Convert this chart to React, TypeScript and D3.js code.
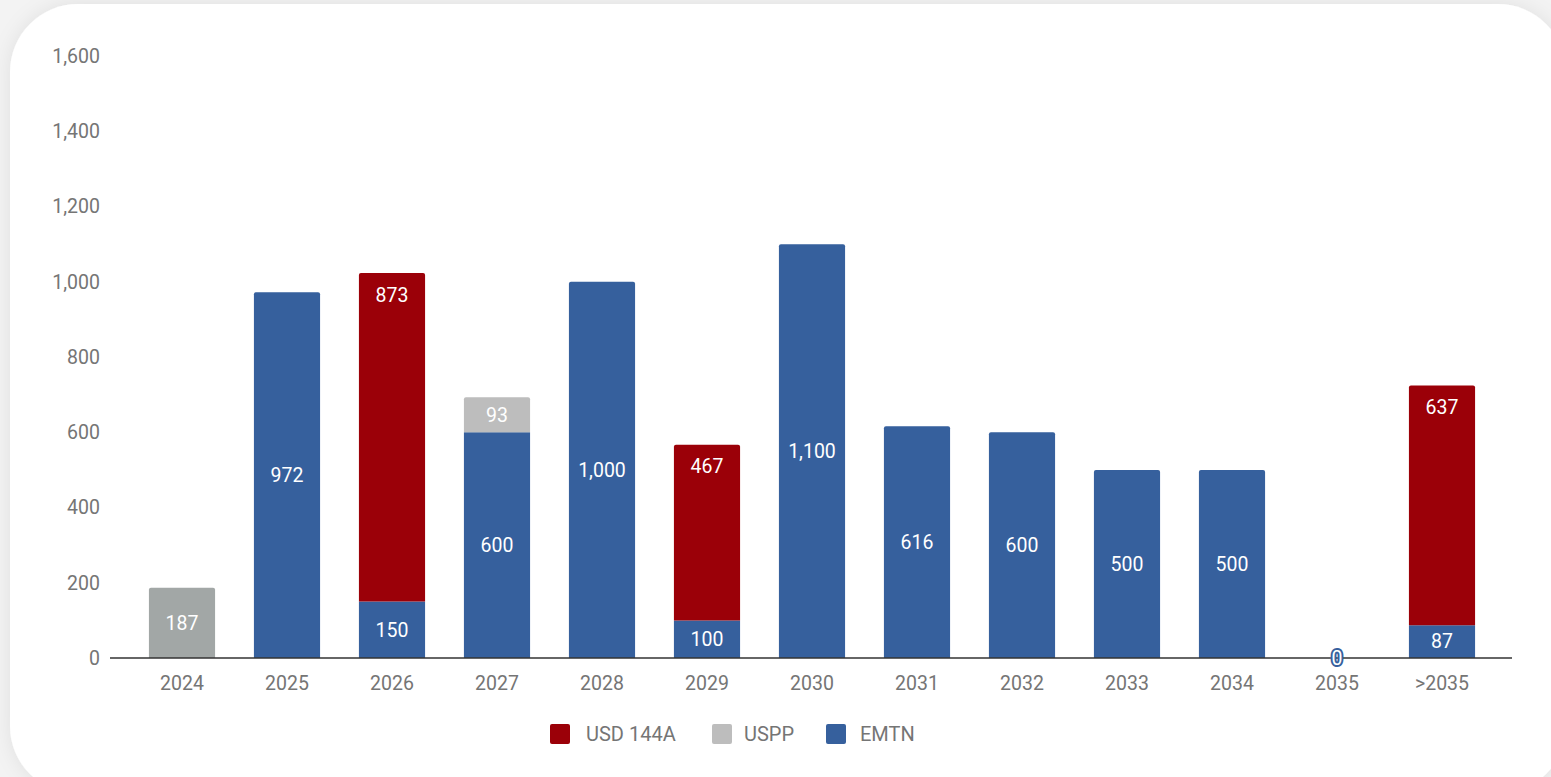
import React from "react";
import * as d3 from "d3";

const categories = ["2024", "2025", "2026", "2027", "2028", "2029", "2030", "2031", "2032", "2033", "2034", "2035", ">2035"];
const emtn = [0, 972, 150, 600, 1000, 100, 1100, 616, 600, 500, 500, 0, 87];
const uspp = [187, 0, 0, 93, 0, 0, 0, 0, 0, 0, 0, 0, 0];
const usd144a = [0, 0, 873, 0, 0, 467, 0, 0, 0, 0, 0, 0, 637];
const yTicks = [0, 200, 400, 600, 800, 1000, 1200, 1400, 1600];
const seriesNames = ["USD 144A", "USPP", "EMTN"];

const COLORS: Record<string, string> = { "EMTN": "#36609d", "USPP": "#bdbdbd", "USD 144A": "#9b0008" };
const W = 1551, H = 777;
const fmt = d3.format(",");

export default function App() {
  const y = d3.scaleLinear().domain([0, 1600]).range([658, 56]);
  const x = d3.scaleBand<string>().domain(categories).range([129.5, 1494.5]).paddingInner(0.37).paddingOuter(0.185);
  const rows = categories.map((c, i) => ({ cat: c, EMTN: emtn[i], USPP: uspp[i], "USD 144A": usd144a[i] }));
  const stack = d3.stack<any>().keys(["EMTN", "USPP", "USD 144A"]);
  const layers = stack(rows);
  const font = "Roboto, 'Noto Sans', sans-serif";
  const bw = x.bandwidth();
  const FS = 19.5;

  const topKey = (i: number) => {
    let k = "";
    for (const l of layers) if (l[i][1] - l[i][0] > 0) k = l.key;
    return k;
  };

  const segPath = (x0: number, y0: number, x1: number, y1: number, r: number) => {
    const p = d3.path();
    p.moveTo(x0, y1);
    p.lineTo(x0, y0 + r);
    p.quadraticCurveTo(x0, y0, x0 + r, y0);
    p.lineTo(x1 - r, y0);
    p.quadraticCurveTo(x1, y0, x1, y0 + r);
    p.lineTo(x1, y1);
    p.closePath();
    return p.toString();
  };

  const legendItems = [
    { name: seriesNames[0], sx: 550, tx: 586 },
    { name: seriesNames[1], sx: 712, tx: 744 },
    { name: seriesNames[2], sx: 826, tx: 860 },
  ];

  return (
    <svg width={W} height={H} style={{ position: "absolute", left: 0, top: 0 }} fontFamily={font}>
      <defs>
        <filter id="sh" x="-5%" y="-5%" width="110%" height="110%">
          <feDropShadow dx="0" dy="0" stdDeviation="10" floodColor="#000" floodOpacity="0.08" />
        </filter>
      </defs>
      <rect x={0} y={0} width={W} height={H} fill="#f3f3f3" />
      <rect x={10} y={4} width={1556} height={790} rx={68} ry={68} fill="#ffffff" filter="url(#sh)" />

      {yTicks.map((t) => (
        <text key={t} x={100} y={y(t)} dy="0.35em" textAnchor="end" fontSize={FS} fill="#757575">{fmt(t)}</text>
      ))}

      {layers.map((layer) =>
        layer.map((d, i) => {
          const v = d[1] - d[0];
          if (v <= 0) return null;
          const key = layer.key;
          const x0 = x(categories[i])!;
          const yt = y(d[1]), yb = y(d[0]);
          let fill = COLORS[key];
          if (key === "USPP" && i === 0) fill = "#a2a7a6";
          const isTop = topKey(i) === key;
          return (
            <path key={key + i} d={isTop ? segPath(x0, yt, x0 + bw, yb, 2) : `M${x0},${yt}H${x0 + bw}V${yb}H${x0}Z`} fill={fill} />
          );
        })
      )}

      <line x1={110} x2={1512} y1={658} y2={658} stroke="#333" strokeWidth={1.5} />

      {layers.map((layer) =>
        layer.map((d, i) => {
          const v = d[1] - d[0];
          const key = layer.key;
          const cx = x(categories[i])! + bw / 2;
          if (v <= 0) {
            if (key === "EMTN" && categories[i] === "2035") {
              return (
                <text key={"l" + key + i} x={cx} y={y(0)} dy="0.35em" textAnchor="middle" fontSize={FS}
                  fill="#ffffff" stroke="#36609d" strokeWidth={4} paintOrder="stroke" strokeLinejoin="round">0</text>
              );
            }
            return null;
          }
          const ly = key === "USD 144A" ? y(d[1]) + 22 : (y(d[0]) + y(d[1])) / 2;
          return (
            <text key={"l" + key + i} x={cx} y={ly} dy="0.35em" textAnchor="middle" fontSize={FS} fill="#ffffff">{fmt(v)}</text>
          );
        })
      )}

      {categories.map((c) => (
        <text key={c} x={x(c)! + bw / 2} y={683} dy="0.35em" textAnchor="middle" fontSize={FS} fill="#757575">{c}</text>
      ))}

      {legendItems.map((l) => (
        <g key={l.name}>
          <rect x={l.sx} y={724} width={20} height={20} rx={2} fill={COLORS[l.name]} />
          <text x={l.tx} y={734} dy="0.35em" fontSize={20} fill="#757575">{l.name}</text>
        </g>
      ))}
    </svg>
  );
}
